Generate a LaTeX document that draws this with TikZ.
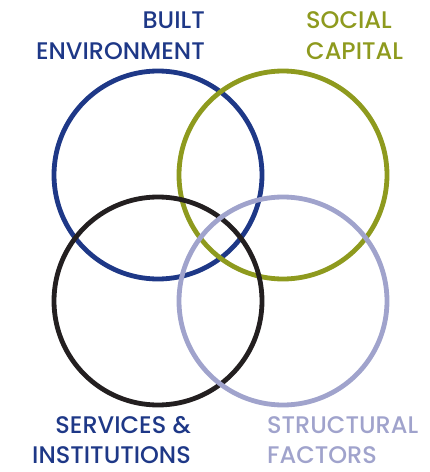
\documentclass[tikz,border=0pt]{standalone}
\usepackage{fontspec}
\setmainfont{Poppins}[UprightFont=* Medium]
\usepackage{xcolor}
\usetikzlibrary{positioning}
\definecolor{builtBlue}{RGB}{30,56,135}
\definecolor{socialOlive}{RGB}{142,154,30}
\definecolor{servicesBlack}{RGB}{35,31,32}
\definecolor{structLavender}{RGB}{160,163,204}
\tikzset{%
  ring/.style={circle, draw=#1, line width=4.8pt, minimum size=208pt},
  label/.style={font=\fontsize{24}{30.5}\selectfont, inner sep=0pt, text depth=0pt},
}

\begin{document}
\begin{tikzpicture}[x=1pt,y=-1pt]
    \useasboundingbox (0,0) rectangle (430,472);
    %Circles
    \node[ring=builtBlue] (built) at (158,175) {};
    \node[ring=socialOlive] (social) at (283,175) {};
    \node[ring=servicesBlack] (services) at (158,301) {};
    \node[ring=structLavender] (struct) at (283,301) {};

    %Labels
    \node[label, text=builtBlue, align=right, anchor=base east] (builtLabel) at (205,59) {BUILT\\ENVIRONMENT};
    \node[label, text=socialOlive, align=left, anchor=base west] (socialLabel) at (306,59) {SOCIAL\\CAPITAL};
    \node[label, text=builtBlue, align=right, anchor=base east] (servicesLabel) at (191,463.5) {SERVICES \&\\INSTITUTIONS};
    \node[label, text=structLavender, align=left, anchor=base west] (structLabel) at (267,463.5) {STRUCTURAL\\FACTORS};
\end{tikzpicture}
\end{document}
